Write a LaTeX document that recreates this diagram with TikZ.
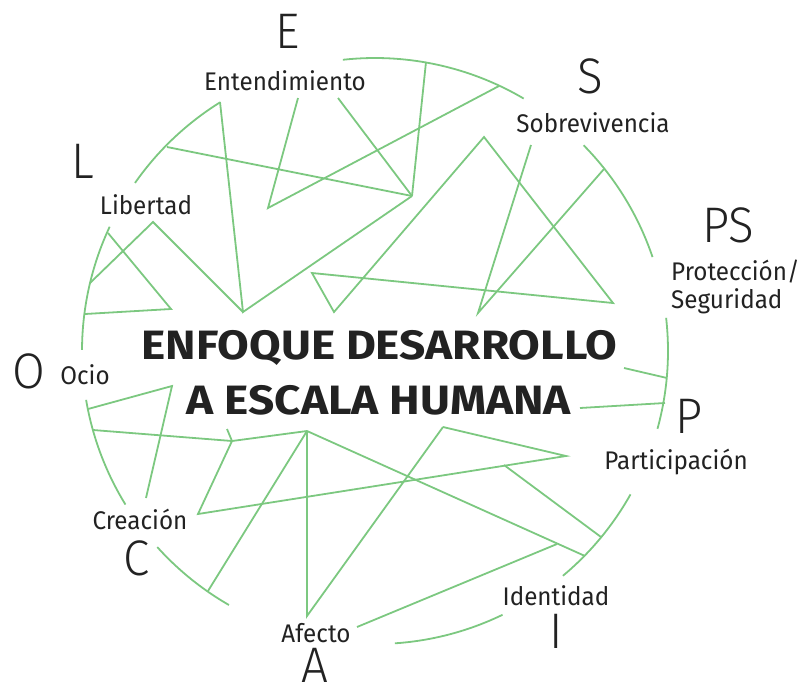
\documentclass[tikz,border=0pt]{standalone}
\usepackage{fontspec}
\setmainfont{Fira Sans}
\newfontfamily\labfont{Fira Sans}[FakeStretch=0.95]
\newfontfamily\bigfont{Fira Sans Light}[FakeStretch=0.95]
\newfontfamily\titfont{Fira Sans}[FakeStretch=1.12]
\definecolor{lgreen}{RGB}{124,200,128}
\definecolor{ink}{RGB}{34,34,34}
\begin{document}
\begin{tikzpicture}[x=1pt,y=-1pt,
  ln/.style={draw=lgreen,line width=1.8pt,line join=miter},
  arcln/.style={draw=lgreen,line width=1.8pt},
  lab/.style={text=ink,font=\labfont\fontsize{25.5}{28}\selectfont,inner sep=0pt,anchor=base},
  big/.style={text=ink,font=\bigfont\fontsize{50}{52}\selectfont,inner sep=0pt,anchor=base},
  tit/.style={text=ink,font=\titfont\bfseries\fontsize{41}{44}\selectfont,inner sep=0pt,anchor=base}]
\useasboundingbox (0,0) rectangle (803,686);
% circle arcs (center 375,351, r 293)
\foreach \a/\b in {-96.3/-59.5,-44.6/-18.7,-6.5/15.4,29.3/50.1,64.2/86.1,119.9/138,148.4/170.4,180.2/205.1,215/238.1}{
  \draw[arcln] plot[domain=\a:\b,samples=60,smooth] ({375+293*cos(\x)},{351+293*sin(\x)});
}
% coordinates
\coordinate (a1) at (220,102);
\coordinate (b) at (243,312);
\coordinate (c) at (412,196);
\coordinate (d) at (153,222);
\coordinate (e) at (90,283);
\coordinate (f) at (108,233);
\coordinate (g) at (171,309);
\coordinate (h) at (85,314);
\coordinate (i) at (167,147);
\coordinate (j) at (298,98);
\coordinate (k) at (268,208);
\coordinate (l) at (499,86);
\coordinate (m) at (338,98);
\coordinate (n) at (426,62);
\coordinate (p1) at (312,273);
\coordinate (p2) at (334,312);
\coordinate (p3) at (484,137);
\coordinate (p4) at (613,303);
\coordinate (q1) at (531,145);
\coordinate (q2) at (478,313);
\coordinate (q3) at (604,169);
\coordinate (r1) at (624,368);
\coordinate (r2) at (667,378);
\coordinate (s1) at (580,408);
\coordinate (s2) at (665,403);
\coordinate (t1) at (443,427);
\coordinate (t2) at (566,456);
\coordinate (t3) at (198,514);
\coordinate (u) at (232,441);
\coordinate (tick) at (227,429);
\coordinate (v) at (93,430);
\coordinate (w) at (307,431);
\coordinate (af) at (307,616);
\coordinate (w2) at (208,591);
\coordinate (w3) at (585,556);
\coordinate (x1) at (504,465);
\coordinate (x2) at (601,537);
\coordinate (y1) at (557,544);
\coordinate (y2) at (357,627);
\coordinate (o1) at (88,409);
\coordinate (o2) at (172,386);
\coordinate (o3) at (146,498);
% lines
\draw[ln] (a1) -- (b) -- (c);
\draw[ln] (b) -- (d) -- (e);
\draw[ln] (f) -- (g) -- (h);
\draw[ln] (i) -- (c);
\draw[ln] (j) -- (k) -- (l);
\draw[ln] (m) -- (c);
\draw[ln] (n) -- (c);
\draw[ln] (p1) -- (p2) -- (p3) -- (p4) -- cycle;
\draw[ln] (q1) -- (q2) -- (q3);
\draw[ln] (r1) -- (r2);
\draw[ln] (s1) -- (s2);
\draw[ln] (t1) -- (t2) -- (t3) -- (u);
\draw[ln] (u) -- (tick);
\draw[ln] (u) -- (v);
\draw[ln] (u) -- (w);
\draw[ln] (w) -- (af) -- (t1);
\draw[ln] (w) -- (w2);
\draw[ln] (w) -- (w3);
\draw[ln] (x1) -- (x2);
\draw[ln] (y1) -- (y2);
\draw[ln] (o1) -- (o2) -- (o3);
% labels
\node[big] (E) at (288,48) {E};
\node[lab] (Ent) at (285,90) {Entendimiento};
\node[big] (L) at (83,178) {L};
\node[lab] (Lib) at (146,214) {Libertad};
\node[big] (S) at (590,93) {S};
\node[lab] (Sob) at (593,132) {Sobrevivencia};
\node[big] (PS) at (728,242) {PS};
\node[lab,anchor=base west] (Pro) at (671,280) {Protección/};
\node[lab,anchor=base west] (Seg) at (671,308) {Seguridad};
\node[big] (O) at (29,388) {O};
\node[lab] (Oc) at (85,384) {Ocio};
\node[big] (P) at (689,433) {P};
\node[lab] (Par) at (676,469) {Participación};
\node[lab] (Cre) at (140,529) {Creación};
\node[big] (C) at (137,575) {C};
\node[lab] (Afe) at (316,642) {Afecto};
\node[big] (A) at (315,682) {A};
\node[lab] (Ide) at (556,605) {Identidad};
\node[big] (I) at (556,648) {I};
\node[tit] (T1) at (379.5,359) {ENFOQUE DESARROLLO};
\node[tit] (T2) at (379,414) {A ESCALA HUMANA};
\end{tikzpicture}
\end{document}
